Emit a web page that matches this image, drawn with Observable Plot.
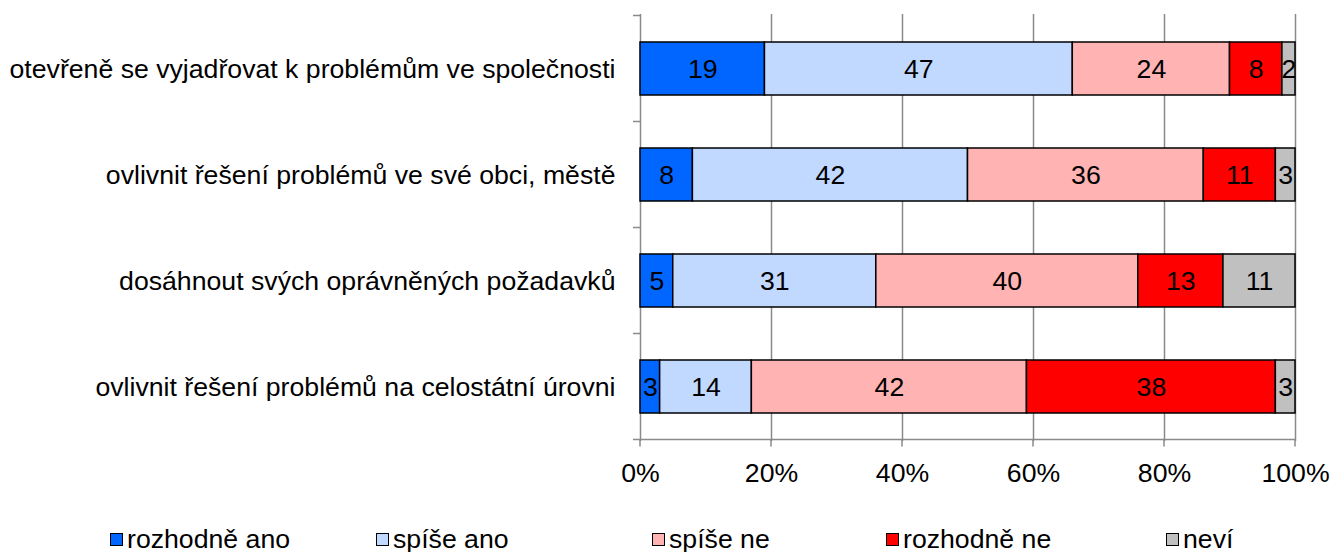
<!DOCTYPE html>
<html><head><meta charset="utf-8">
<script src="https://cdn.jsdelivr.net/npm/d3@7"></script>
<script src="https://cdn.jsdelivr.net/npm/@observablehq/plot@0.6"></script>
<style>
body{margin:0;background:#fff;font-family:"Liberation Sans",Arial,sans-serif;}
#wrap{position:relative;width:1330px;height:552px;overflow:hidden;}
#legend{position:absolute;left:0;top:500px;width:1330px;height:52px;}
.item{position:absolute;top:24px;height:30px;display:flex;align-items:center;font-size:26.67px;color:#000;white-space:nowrap;}
.sw{width:11px;height:11px;border:1.5px solid #000;margin-right:4px;flex:none;}
</style></head><body><div id="wrap"><div id="chart"></div><div id="legend"></div></div>
<script>
const categories = [
  "otevřeně se vyjadřovat k problémům ve společnosti",
  "ovlivnit řešení problémů ve své obci, městě",
  "dosáhnout svých oprávněných požadavků",
  "ovlivnit řešení problémů na celostátní úrovni"
];
const series = ["rozhodně ano", "spíše ano", "spíše ne", "rozhodně ne", "neví"];
const colors = ["#0066ff", "#c2d9ff", "#ffb3b3", "#ff0000", "#c0c0c0"];
const rozhodneAno = [19, 8, 5, 3];
const spiseAno = [47, 42, 31, 14];
const spiseNe = [24, 36, 40, 42];
const rozhodneNe = [8, 11, 13, 38];
const nevi = [2, 3, 11, 3];
const xTicks = [0, 20, 40, 60, 80, 100];
const legendLeft = [110, 376, 652, 886, 1166];

const seriesValues = [rozhodneAno, spiseAno, spiseNe, rozhodneNe, nevi];
const data = [];
categories.forEach((c, i) => series.forEach((s, j) => data.push({category: c, series: s, value: seriesValues[j][i]})));

const axisColor = "#8a8a8a";
const font = "26.67px";

const chart = Plot.plot({
  width: 1330, height: 500,
  marginLeft: 640, marginRight: 35, marginTop: 14, marginBottom: 59,
  style: {fontFamily: "'Liberation Sans', Arial, sans-serif", fontSize: font, background: "#fff", color: "#000", overflow: "visible"},
  x: {domain: [0, 100], ticks: xTicks, tickFormat: d => d + "%", tickSize: 0, tickPadding: 22, label: null},
  y: {domain: categories, paddingInner: 0.5, paddingOuter: 0.25, tickSize: 0, tickPadding: 25, label: null},
  color: {domain: series, range: colors},
  marks: [
    Plot.ruleX(xTicks.slice(1), {stroke: axisColor, strokeWidth: 1.5}),
    Plot.ruleX([0], {stroke: axisColor, strokeWidth: 1.5}),
    Plot.barX(data, Plot.stackX({x: "value", y: "category", z: "series", order: series, fill: "series", stroke: "#000", strokeWidth: 1.5})),
    Plot.text(data, Plot.stackX({x: "value", y: "category", z: "series", order: series, text: d => String(d.value), fill: "#000", fontSize: font}))
  ]
});
document.getElementById("chart").appendChild(chart);

// decorations: boundary ticks on category axis, bottom axis line, x tick marks
const ys = chart.scale("y"), xs = chart.scale("x");
const step = ys.step, bw = ys.bandwidth;
const gap = (step - bw) / 2;
const bounds = categories.map(c => ys.apply(c) - gap);
bounds.push(ys.apply(categories[categories.length - 1]) + bw + gap);
const x0 = xs.apply(0), x1 = xs.apply(100);
const yb = bounds[bounds.length - 1];
const g = d3.select(chart).append("g").attr("stroke", axisColor).attr("stroke-width", 1.5).attr("fill", "none");
bounds.forEach(b => g.append("line").attr("x1", x0 - 7).attr("x2", x0).attr("y1", b).attr("y2", b));
g.append("line").attr("x1", x0).attr("x2", x1).attr("y1", yb).attr("y2", yb);
xTicks.forEach(t => g.append("line").attr("x1", xs.apply(t)).attr("x2", xs.apply(t)).attr("y1", yb).attr("y2", yb + 7));

const legend = document.getElementById("legend");
series.forEach((s, i) => {
  const it = document.createElement("div");
  it.className = "item";
  it.style.left = legendLeft[i] + "px";
  const sw = document.createElement("span");
  sw.className = "sw";
  sw.style.background = colors[i];
  it.appendChild(sw);
  it.appendChild(document.createTextNode(s));
  legend.appendChild(it);
});
</script></body></html>
